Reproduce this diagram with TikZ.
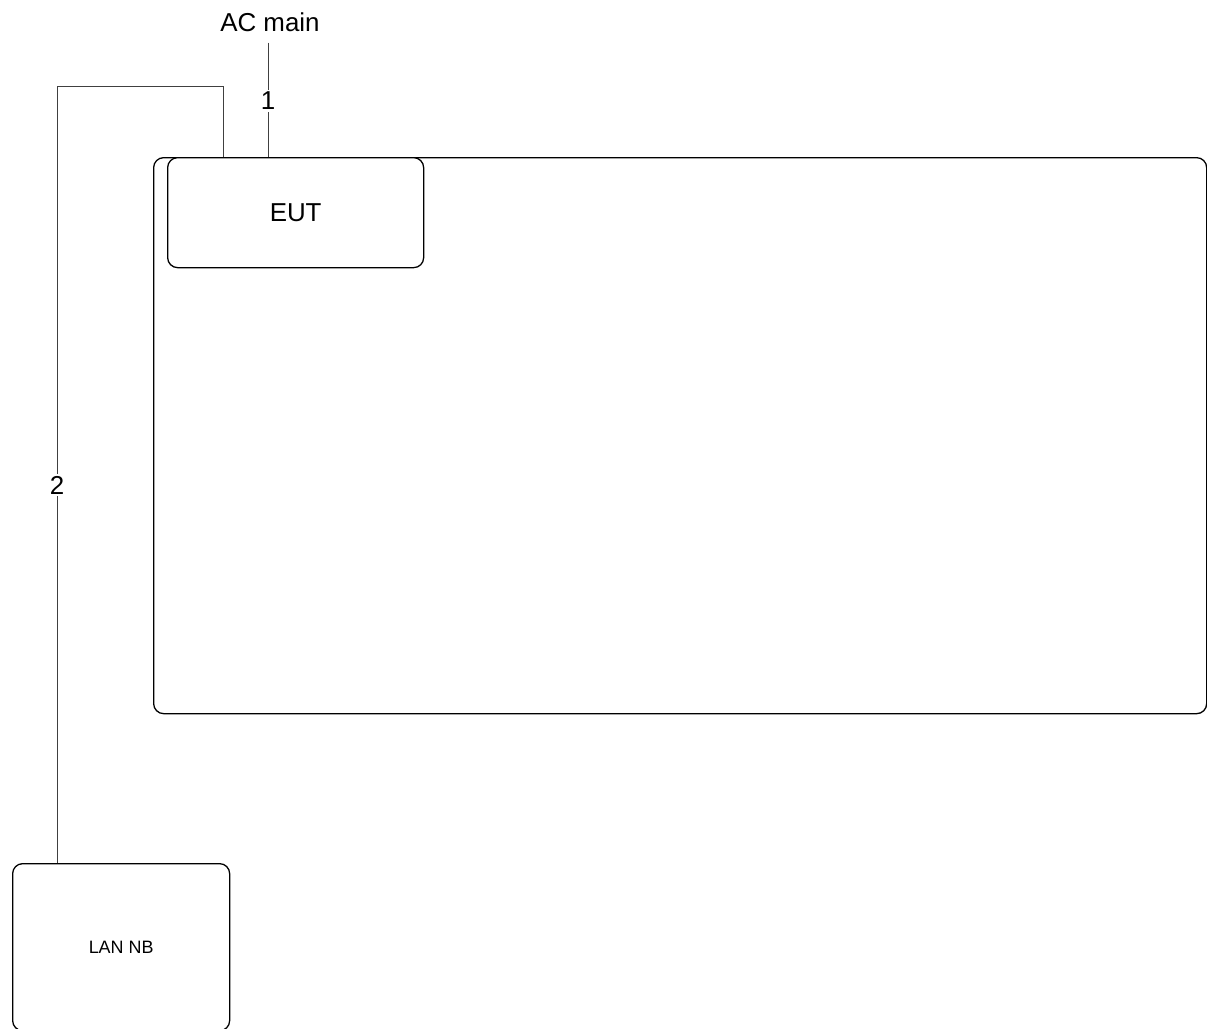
\documentclass[tikz,border=0pt]{standalone}
\usepackage{fontspec}
\setmainfont{Liberation Sans}
\begin{document}
\begin{tikzpicture}[x=1bp,y=-1bp,
  box/.style={draw=black,line width=1.3bp,rounded corners=10bp,fill=white,inner sep=0pt},
  wire/.style={draw=black!75,line width=1bp},
  lbl/.style={fill=white,inner sep=2bp,font=\fontsize{26}{30}\selectfont},
  bigtxt/.style={font=\fontsize{26}{30}\selectfont}]
\useasboundingbox (0,0) rectangle (1207,1029);
% outer area
\node[box,minimum width=1053bp,minimum height=556bp,anchor=north west] (area) at (153,157) {};
% EUT
\node[box,minimum width=256bp,minimum height=110bp,anchor=north west,bigtxt] (eut) at (167,157) {EUT};
% LAN NB
\node[box,minimum width=217bp,minimum height=167bp,anchor=north west,font=\fontsize{18}{21}\selectfont] (lan) at (12,863) {LAN NB};
% AC main
\node[bigtxt,inner sep=0pt,anchor=center] (ac) at (270,22) {AC main};
% connector 1
\draw[wire] (ac.south -| 268,0) ++(0,11) coordinate (c1a) -- (eut.north -| 268,0) coordinate (c1b);
\node[lbl] (l1) at (268,101) {1};
% connector 2
\draw[wire] (eut.north -| 223,0) -- (223,86) -- (57,86) -- (lan.north -| 57,0);
\node[lbl] (l2) at (57,485) {2};
\end{tikzpicture}
\end{document}
